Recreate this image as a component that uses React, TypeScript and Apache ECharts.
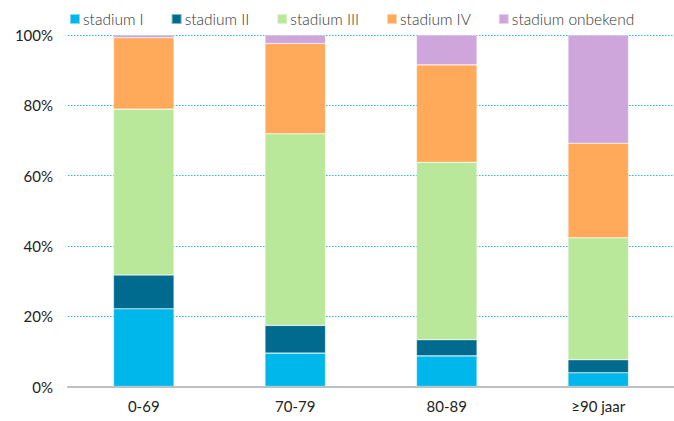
import React, { useEffect, useRef } from "react";
import * as echarts from "echarts";

const categories = ["0-69", "70-79", "80-89", "≥90 jaar"];
const seriesNames = ["stadium I", "stadium II", "stadium III", "stadium IV", "stadium onbekend"];
const stadiumI = [22.1, 9.5, 8.7, 3.9];
const stadiumII = [9.6, 7.9, 4.6, 3.7];
const stadiumIII = [47.2, 54.5, 50.5, 34.7];
const stadiumIV = [20.3, 25.7, 27.7, 26.9];
const stadiumOnbekend = [0.8, 2.4, 8.5, 30.8];
const yTicks = [0, 20, 40, 60, 80, 100];

const colors = ["#00b7eb", "#006b8e", "#b9e89a", "#ffa95a", "#cea6db"];

export default function App() {
  const ref = useRef<HTMLDivElement>(null);
  useEffect(() => {
    if (!ref.current) return;
    const chart = echarts.init(ref.current, undefined, { renderer: "svg" });
    const values = [stadiumI, stadiumII, stadiumIII, stadiumIV, stadiumOnbekend];
    chart.setOption({
      animation: false,
      textStyle: { fontFamily: "Lato, 'Noto Sans', sans-serif" },
      color: colors,
      legend: {
        top: 6,
        left: 64,
        itemWidth: 10,
        itemHeight: 10,
        itemGap: 27,
        icon: "rect",
        textStyle: { fontSize: 15.5, color: "#333", fontWeight: 300, padding: [0, 0, 0, -2] },
        data: seriesNames,
      },
      grid: { left: 68, right: 0, top: 35, bottom: 34.5 },
      xAxis: {
        type: "category",
        data: categories,
        axisLine: { lineStyle: { color: "#bfbfbf", width: 2 } },
        axisTick: { lineStyle: { color: "#bfbfbf", width: 2 }, length: 5 },
        axisLabel: { fontSize: 15, color: "#222", margin: 12 },
      },
      yAxis: {
        type: "value",
        min: yTicks[0],
        max: yTicks[yTicks.length - 1],
        interval: 20,
        axisLine: { show: false },
        axisTick: { show: false },
        axisLabel: { formatter: "{value}%", fontSize: 15, color: "#222", margin: 15 },
        splitLine: { lineStyle: { color: "#29b8ec", type: [1.5, 1.5], width: 1.2 } },
      },
      series: seriesNames.map((name, i) => ({
        name,
        type: "bar",
        stack: "total",
        barWidth: "40%",
        data: values[i],
        itemStyle: { color: colors[i], borderColor: "rgba(255,255,255,0.5)", borderWidth: 0.6 },
      })),
    });
    return () => chart.dispose();
  }, []);
  return <div ref={ref} style={{ width: 674, height: 421, position: "absolute", left: 0, top: 0 }} />;
}
